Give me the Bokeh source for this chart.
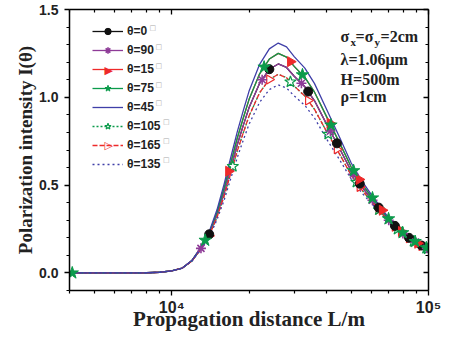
import numpy as np
from bokeh.plotting import figure
from bokeh.models import (Range1d, LogAxis, LinearAxis, FixedTicker, PrintfTickFormatter,
                          CustomJSTickFormatter, Legend, LegendItem, Label)
from bokeh.embed import file_html
from bokeh.resources import INLINE

# ---- data ----
distance = [4000, 5000, 6000, 7000, 8000, 9000, 10000, 11000, 12000, 13000, 14000, 15000,
            16000, 17000, 18000, 19000, 20000, 22000, 24000, 26000, 28000, 30000, 33000,
            36000, 40000, 45000, 50000, 55000, 60000, 70000, 80000, 90000, 100000]
i_0_90 = [0, 0, 0, 0, 0.001, 0.004, 0.012, 0.028, 0.07, 0.14, 0.22, 0.33, 0.46, 0.60, 0.73,
          0.84, 0.94, 1.08, 1.16, 1.19, 1.17, 1.12, 1.06, 0.98, 0.85, 0.71, 0.58, 0.49, 0.42,
          0.30, 0.22, 0.17, 0.135]
i_45 = [0, 0, 0, 0, 0.001, 0.004, 0.012, 0.028, 0.072, 0.147, 0.235, 0.358, 0.506, 0.66, 0.803,
        0.924, 1.034, 1.188, 1.276, 1.309, 1.287, 1.232, 1.166, 1.078, 0.935, 0.774, 0.626,
        0.524, 0.445, 0.314, 0.227, 0.173, 0.136]
i_15_75 = [0, 0, 0, 0, 0.001, 0.004, 0.012, 0.028, 0.071, 0.144, 0.228, 0.344, 0.483, 0.63,
           0.767, 0.882, 0.987, 1.134, 1.218, 1.25, 1.229, 1.176, 1.113, 1.029, 0.893, 0.742,
           0.603, 0.507, 0.433, 0.307, 0.223, 0.172, 0.136]
i_105_165 = [0, 0, 0, 0, 0.001, 0.004, 0.012, 0.028, 0.069, 0.137, 0.212, 0.316, 0.437, 0.57,
             0.694, 0.798, 0.893, 1.026, 1.102, 1.131, 1.112, 1.064, 1.007, 0.931, 0.808,
             0.678, 0.557, 0.473, 0.407, 0.293, 0.217, 0.168, 0.134]
i_135 = [0, 0, 0, 0, 0.001, 0.004, 0.012, 0.028, 0.068, 0.133, 0.205, 0.302, 0.414, 0.54,
         0.657, 0.756, 0.846, 0.972, 1.044, 1.071, 1.053, 1.008, 0.954, 0.882, 0.765, 0.646,
         0.534, 0.456, 0.395, 0.287, 0.213, 0.167, 0.134]

# symbol points of each series
mk0_L = [14000, 24000, 34000, 44000, 54000, 64000, 74000, 84000, 94000]
mk0_I = [0.22, 1.16, 1.033, 0.738, 0.508, 0.372, 0.268, 0.20, 0.156]
mk90_L = [13000, 22500, 32000, 41500, 51000, 60500, 70000, 79500, 89000, 98500]
mk90_I = [0.14, 1.10, 1.08, 0.808, 0.562, 0.414, 0.30, 0.224, 0.175, 0.14]
mk15_L = [16650, 29000, 41350, 53700, 66050, 78400, 90750]
mk15_I = [0.579, 1.203, 0.852, 0.532, 0.357, 0.236, 0.169]
mk75_L = [4100, 13500, 22900, 32300, 41700, 51100, 60500, 69900, 79300, 88700, 98100]
mk75_I = [0.0, 0.186, 1.172, 1.128, 0.842, 0.582, 0.427, 0.308, 0.229, 0.179, 0.143]
mk105_L = [17300, 29000, 40700, 52400, 64100, 75800, 87500, 99200]
mk105_I = [0.607, 1.088, 0.79, 0.517, 0.36, 0.249, 0.18, 0.137]
mk165_L = [14000, 24000, 34000, 44000, 54000, 64000, 74000, 84000, 94000]
mk165_I = [0.212, 1.102, 0.982, 0.704, 0.49, 0.361, 0.263, 0.197, 0.154]

legend_labels = ["θ=0", "θ=90", "θ=15", "θ=75", "θ=45", "θ=105", "θ=165", "θ=135"]
x_major = [10000, 100000]
x_major_labels = ["10\u2074", "10\u2075"]
x_minor = [4000, 5000, 6000, 7000, 8000, 9000, 20000, 30000, 40000, 50000, 60000, 70000, 80000, 90000]
y_major = [0, 0.5, 1.0, 1.5]
y_minor = [-0.1, 0.1, 0.2, 0.3, 0.4, 0.6, 0.7, 0.8, 0.9, 1.1, 1.2, 1.3, 1.4]

BLACK = "#111111"
PURPLE = "#8E3B97"
RED = "#EE2A2A"
GREEN = "#0B9B4B"
BLUE = "#3F3FA8"

p = figure(width=441, height=333, x_axis_type="log",
           x_range=Range1d(4000, 100000), y_range=Range1d(-0.1, 1.5),
           output_backend="svg", toolbar_location=None,
           min_border_left=69, min_border_right=13, min_border_top=9, min_border_bottom=42)
p.grid.visible = False
p.outline_line_color = None
p.background_fill_color = "white"
p.border_fill_color = "white"

xt = FixedTicker(ticks=x_major, minor_ticks=x_minor)
yt = FixedTicker(ticks=y_major, minor_ticks=y_minor)
blank = CustomJSTickFormatter(code="return '';")

xa = p.xaxis[0]
xa.ticker = xt
xa.formatter = CustomJSTickFormatter(args=dict(majors=x_major, names=x_major_labels),
                                     code="const i = majors.indexOf(tick); return i >= 0 ? names[i] : '';")
ya = p.yaxis[0]
ya.ticker = yt
ya.formatter = PrintfTickFormatter(format="%.1f")

for ax in (xa, ya):
    ax.axis_line_width = 1.5
    ax.major_tick_line_width = 1.3
    ax.minor_tick_line_width = 1.2
    ax.major_tick_out = 5
    ax.major_tick_in = 0
    ax.minor_tick_out = 3
    ax.minor_tick_in = 0
    ax.major_label_text_font = "Liberation Sans"
    ax.major_label_text_font_style = "bold"
    ax.major_label_text_color = "#222222"
    ax.axis_label_text_font = "Liberation Serif"
    ax.axis_label_text_font_style = "bold"
    ax.axis_label_text_color = "#222222"

xa.major_label_text_font_size = "16px"
xa.major_label_standoff = 3
xa.axis_label = "Propagation distance L/m"
xa.axis_label_text_font_size = "21px"
xa.axis_label_standoff = -12
ya.major_label_text_font_size = "14px"
ya.major_label_standoff = 6
ya.axis_label = "Polarization intensity I(θ)"
ya.axis_label_text_font_size = "19px"
ya.axis_label_standoff = 0

top = LogAxis(ticker=xt, formatter=blank, major_label_standoff=0)
right = LinearAxis(ticker=yt, formatter=blank, major_label_standoff=0)
for ax in (top, right):
    ax.axis_line_width = 1.5
    ax.major_tick_line_width = 1.3
    ax.minor_tick_line_width = 1.2
    ax.major_tick_in = 5
    ax.major_tick_out = 0
    ax.minor_tick_in = 3
    ax.minor_tick_out = 0
    ax.major_label_text_font_size = "1px"
p.add_layout(top, "above")
p.add_layout(right, "right")

LW = 1.3
l0 = p.line(distance, i_0_90, color=BLACK, line_width=LW)
l15 = p.line(distance, i_15_75, color=RED, line_width=LW)
l105 = p.line(distance, i_105_165, color=GREEN, line_width=LW, line_dash="2 2")
l90 = p.line(distance, i_0_90, color=PURPLE, line_width=LW)
l75 = p.line(distance, i_15_75, color=GREEN, line_width=LW)
l165 = p.line(distance, i_105_165, color=RED, line_width=LW, line_dash="5 2")
l45 = p.line(distance, i_45, color=BLUE, line_width=LW)
l135 = p.line(distance, i_135, color=BLUE, line_width=LW, line_dash="2 3")

m165 = p.scatter(mk165_L, mk165_I, marker="triangle", angle=-np.pi / 2, size=9,
                 line_color=RED, fill_color="white", line_width=1.2)
m105 = p.scatter(mk105_L, mk105_I, marker="star", size=12,
                 line_color=GREEN, fill_color="white", line_width=1.2)
m0 = p.scatter(mk0_L, mk0_I, marker="circle", size=9, line_color=BLACK, fill_color=BLACK)
m90 = p.scatter(mk90_L, mk90_I, marker="asterisk", size=10, line_color=PURPLE, line_width=1.6)
m15 = p.scatter(mk15_L, mk15_I, marker="triangle", angle=-np.pi / 2, size=10,
                line_color=RED, fill_color=RED)
m75 = p.scatter(mk75_L, mk75_I, marker="star", size=13, line_color=GREEN, fill_color=GREEN)

# legend (rotated triangles are added as text symbols below)
rends = [[l0, m0], [l90, m90], [l15], [l75, m75], [l45], [l105, m105], [l165], [l135]]
items = [LegendItem(label=lab, renderers=r) for lab, r in zip(legend_labels, rends)]
legend = Legend(items=items, location=(18, 113), glyph_width=31, glyph_height=16,
                label_height=16, spacing=3, padding=5, label_standoff=4,
                label_text_font="Liberation Sans", label_text_font_style="bold",
                label_text_font_size="12px", label_text_color="#222222",
                border_line_alpha=0, background_fill_alpha=0)
p.add_layout(legend)

sym_kw = dict(text_font="DejaVu Sans", text_font_size="11px", text_color=RED,
              text_align="center", text_baseline="middle")
p.add_layout(Label(x=5688, y=1.154, text="\u25b6", **sym_kw))
p.add_layout(Label(x=5688, y=0.723, text="\u25b7", **sym_kw))

# small missing-glyph boxes after the legend labels
box_x = [8437, 8902, 8902, 8902, 8902, 9520, 9520, 9520]
for k, bx in enumerate(box_x):
    p.add_layout(Label(x=bx, y=1.396 - 0.1078 * k, text="\u25a1", text_font="DejaVu Sans",
                       text_font_size="7px", text_color="#aaaaaa", text_align="center",
                       text_baseline="middle"))

# parameter annotations
TF = "Liberation Serif"
def ann(x, y, t, size="16px"):
    p.add_layout(Label(x=x, y=y, text=t, text_font=TF, text_font_style="bold",
                       text_font_size=size, text_color="#222222", text_align="left",
                       text_baseline="alphabetic"))

ann(45460, 1.347, "σ")
ann(49720, 1.315, "x", "11px")
ann(52000, 1.347, "=σ")
ann(61660, 1.315, "y", "11px")
ann(65050, 1.347, "=2cm")
ann(45460, 1.215, "λ=1.06μm")
ann(45460, 1.101, "H=500m")
ann(45460, 1.004, "ρ=1cm")

open("out.html", "w").write(file_html(p, INLINE))
